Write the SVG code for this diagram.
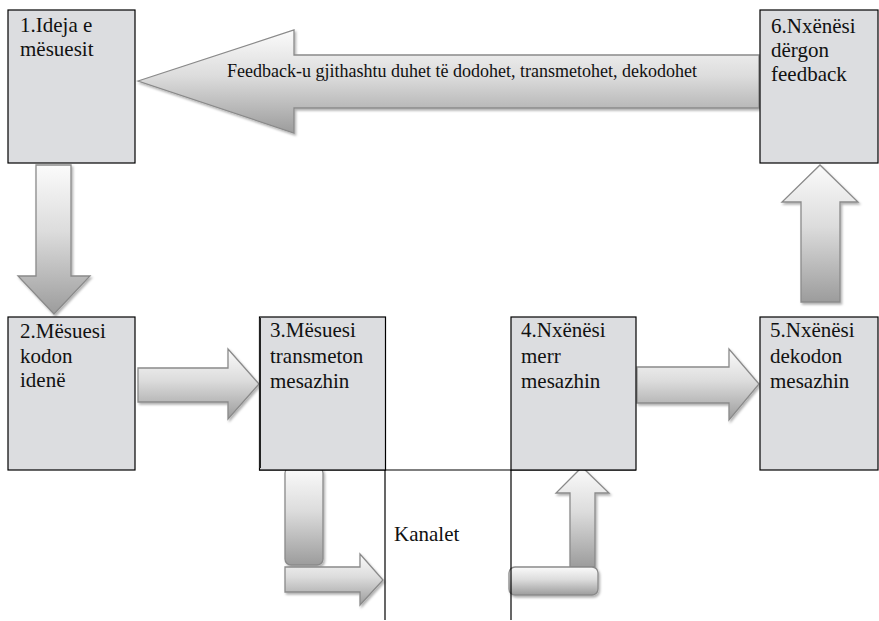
<svg xmlns="http://www.w3.org/2000/svg" width="879" height="621" viewBox="0 0 879 621">
<defs>
<linearGradient id="g" x1="0" y1="0" x2="0" y2="1">
<stop offset="0" stop-color="#fbfbfb"/>
<stop offset="0.45" stop-color="#dcdcdc"/>
<stop offset="1" stop-color="#9c9c9c"/>
</linearGradient>
<filter id="sh" x="-10%" y="-10%" width="130%" height="130%">
<feDropShadow dx="1.5" dy="2" stdDeviation="1.2" flood-color="#000" flood-opacity="0.3"/>
</filter>
</defs>
<style>
.box{fill:#dcdde0;stroke:#000;stroke-width:1.2}
.t{font-size:21px;fill:#111}
.ft{font-size:18px;fill:#111}
.arr{fill:url(#g);stroke:#8a8a8a;stroke-width:1.3;filter:url(#sh)}
.ln{stroke:#000;stroke-width:1.2;fill:none}
</style>
<rect width="879" height="621" fill="#fff"/>
<g font-family="'Liberation Serif', 'Times New Roman', serif">
<g id="connectors">
<polygon class="arr" points="138,81 294,30 294,55 759,55 759,108 294,108 294,133"/>
<polygon class="arr" points="36,165 71,165 71,276 90,276 54,314 18,276 36,276"/>
<polygon class="arr" points="138,368 228,368 228,349 259,384 228,419 228,402 138,402"/>
<polygon class="arr" points="637,367 729,367 729,349 759,384 729,420 729,403 637,403"/>
<polygon class="arr" points="801,302 840,302 840,202 858,202 820,165 782,202 801,202"/>
<rect class="arr" x="285" y="467" width="38" height="98" rx="6"/>
<polygon class="arr" points="285,567 360,567 360,554 383,580 360,605 360,592 285,592"/>
<polygon class="arr" points="570,567 595,567 595,493 609,493 582,467 556,493 570,493"/>
<rect class="arr" x="509" y="567" width="89" height="28" rx="6"/>
<line class="ln" x1="259" y1="470" x2="636" y2="470"/>
<line class="ln" x1="385" y1="470" x2="385" y2="620"/>
<line class="ln" x1="511" y1="470" x2="511" y2="620"/>
<text class="ft" x="227" y="77" font-family="'Liberation Serif', 'Times New Roman', serif">Feedback-u gjithashtu duhet të dodohet, transmetohet, dekodohet</text>
<text class="t" x="394" y="541" font-family="'Liberation Serif', 'Times New Roman', serif">Kanalet</text>
</g>
<g id="node1">
<rect class="box" x="8" y="10" width="127" height="153"/>
<text class="t" x="20" y="32" font-family="'Liberation Serif', 'Times New Roman', serif">1.Ideja e</text>
<text class="t" x="20" y="56" font-family="'Liberation Serif', 'Times New Roman', serif">mësuesit</text>
</g>
<g id="node2">
<rect class="box" x="8" y="317" width="127" height="153"/>
<text class="t" x="20" y="338" font-family="'Liberation Serif', 'Times New Roman', serif">2.Mësuesi</text>
<text class="t" x="20" y="363" font-family="'Liberation Serif', 'Times New Roman', serif">kodon</text>
<text class="t" x="20" y="387" font-family="'Liberation Serif', 'Times New Roman', serif">idenë</text>
</g>
<g id="node3">
<rect class="box" x="259.5" y="317" width="126" height="153"/>
<line x1="260" y1="318" x2="260" y2="468" stroke="#222" stroke-width="2"/>
<text class="t" x="270" y="337" font-family="'Liberation Serif', 'Times New Roman', serif">3.Mësuesi</text>
<text class="t" x="270" y="363" font-family="'Liberation Serif', 'Times New Roman', serif">transmeton</text>
<text class="t" x="270" y="388" font-family="'Liberation Serif', 'Times New Roman', serif">mesazhin</text>
</g>
<g id="node4">
<rect class="box" x="511" y="317" width="125" height="153"/>
<text class="t" x="521" y="337" font-family="'Liberation Serif', 'Times New Roman', serif">4.Nxënësi</text>
<text class="t" x="521" y="363" font-family="'Liberation Serif', 'Times New Roman', serif">merr</text>
<text class="t" x="521" y="388" font-family="'Liberation Serif', 'Times New Roman', serif">mesazhin</text>
</g>
<g id="node5">
<rect class="box" x="760" y="317" width="118" height="153"/>
<text class="t" x="770" y="337" font-family="'Liberation Serif', 'Times New Roman', serif">5.Nxënësi</text>
<text class="t" x="770" y="363" font-family="'Liberation Serif', 'Times New Roman', serif">dekodon</text>
<text class="t" x="770" y="388" font-family="'Liberation Serif', 'Times New Roman', serif">mesazhin</text>
</g>
<g id="node6">
<rect class="box" x="760" y="10" width="118" height="153"/>
<text class="t" x="771" y="33" font-family="'Liberation Serif', 'Times New Roman', serif">6.Nxënësi</text>
<text class="t" x="771" y="57" font-family="'Liberation Serif', 'Times New Roman', serif">dërgon</text>
<text class="t" x="771" y="81" font-family="'Liberation Serif', 'Times New Roman', serif">feedback</text>
</g>
</g>
</svg>
